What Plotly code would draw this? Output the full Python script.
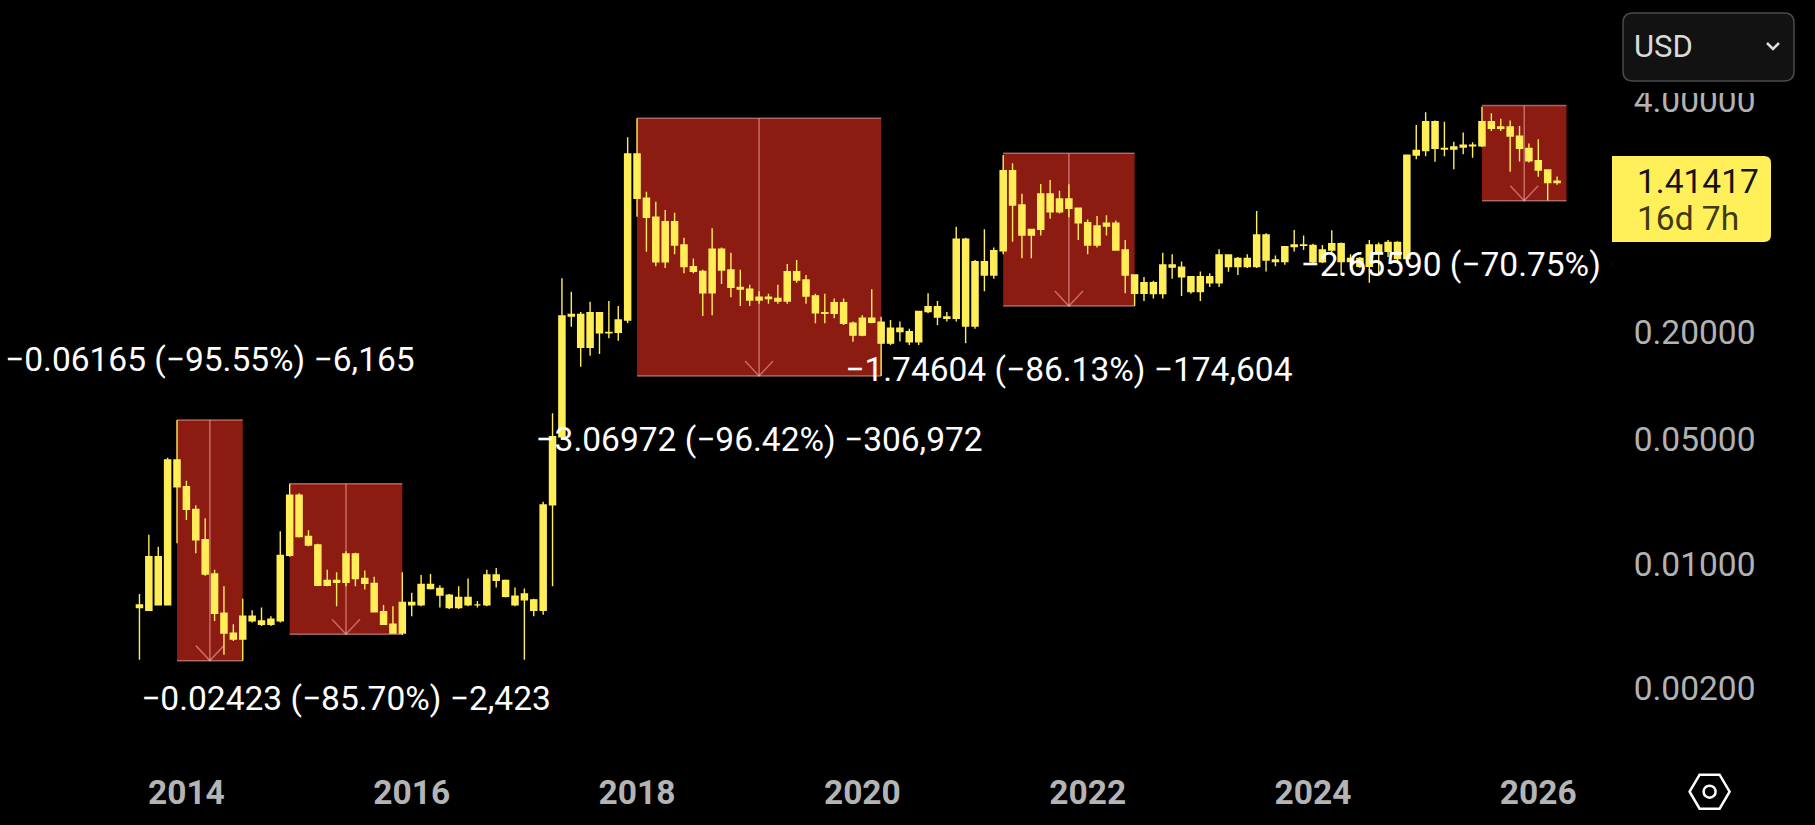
import math
import plotly.graph_objects as go

# ---------------- data (monthly candles, XRP/USD) ----------------
months = [
    "2013-08", "2013-09", "2013-10", "2013-11", "2013-12",
    "2014-01", "2014-02", "2014-03", "2014-04", "2014-05", "2014-06", "2014-07", "2014-08", "2014-09", "2014-10", "2014-11", "2014-12",
    "2015-01", "2015-02", "2015-03", "2015-04", "2015-05", "2015-06", "2015-07", "2015-08", "2015-09", "2015-10", "2015-11", "2015-12",
    "2016-01", "2016-02", "2016-03", "2016-04", "2016-05", "2016-06", "2016-07", "2016-08", "2016-09", "2016-10", "2016-11", "2016-12",
    "2017-01", "2017-02", "2017-03", "2017-04", "2017-05", "2017-06", "2017-07", "2017-08", "2017-09", "2017-10", "2017-11", "2017-12",
    "2018-01", "2018-02", "2018-03", "2018-04", "2018-05", "2018-06", "2018-07", "2018-08", "2018-09", "2018-10", "2018-11", "2018-12",
    "2019-01", "2019-02", "2019-03", "2019-04", "2019-05", "2019-06", "2019-07", "2019-08", "2019-09", "2019-10", "2019-11", "2019-12",
    "2020-01", "2020-02", "2020-03", "2020-04", "2020-05", "2020-06", "2020-07", "2020-08", "2020-09", "2020-10", "2020-11", "2020-12",
    "2021-01", "2021-02", "2021-03", "2021-04", "2021-05", "2021-06", "2021-07", "2021-08", "2021-09", "2021-10", "2021-11", "2021-12",
    "2022-01", "2022-02", "2022-03", "2022-04", "2022-05", "2022-06", "2022-07", "2022-08", "2022-09", "2022-10", "2022-11", "2022-12",
    "2023-01", "2023-02", "2023-03", "2023-04", "2023-05", "2023-06", "2023-07", "2023-08", "2023-09", "2023-10", "2023-11", "2023-12",
    "2024-01", "2024-02", "2024-03", "2024-04", "2024-05", "2024-06", "2024-07", "2024-08", "2024-09", "2024-10", "2024-11", "2024-12",
    "2025-01", "2025-02", "2025-03", "2025-04", "2025-05", "2025-06", "2025-07", "2025-08", "2025-09", "2025-10", "2025-11", "2025-12",
    "2026-01", "2026-02", "2026-03",
]

opens = [
    0.0059, 0.0055, 0.0110, 0.0059, 0.0384,
    0.0272, 0.0203, 0.0137, 0.0088, 0.0053, 0.0041, 0.0038, 0.0051, 0.0048, 0.0046, 0.0048, 0.0112,
    0.0244, 0.0143, 0.0128, 0.0076, 0.0081, 0.0079, 0.0114, 0.0083, 0.0078, 0.0054, 0.0046, 0.0041,
    0.0061, 0.0059, 0.0077, 0.0073, 0.0067, 0.0057, 0.0065, 0.0059, 0.0059, 0.0087, 0.0081, 0.0066,
    0.0063, 0.0063, 0.0055, 0.0215, 0.0519, 0.2473, 0.2520, 0.1650, 0.2580, 0.1992, 0.2000, 0.2348,
    2.008, 1.132, 0.886, 0.499, 0.837, 0.619, 0.468, 0.440, 0.334, 0.586, 0.448, 0.358,
    0.350, 0.304, 0.315, 0.310, 0.300, 0.438, 0.394, 0.320, 0.258, 0.256, 0.294, 0.225,
    0.193, 0.240, 0.228, 0.174, 0.211, 0.202, 0.177, 0.262, 0.279, 0.244, 0.240, 0.667,
    0.217, 0.499, 0.420, 0.575, 1.618, 1.038, 0.705, 0.758, 1.197, 0.952, 1.122, 0.995,
    0.826, 0.619, 0.791, 0.820, 0.580, 0.420, 0.332, 0.380, 0.330, 0.478, 0.465, 0.411,
    0.339, 0.411, 0.380, 0.544, 0.468, 0.521, 0.468, 0.705, 0.510, 0.500, 0.606, 0.620,
    0.616, 0.499, 0.580, 0.630, 0.500, 0.520, 0.470, 0.620, 0.570, 0.640, 0.520, 1.980,
    2.100, 3.050, 2.160, 2.140, 2.200, 2.250, 2.230, 3.050, 2.800, 2.850, 2.530, 2.160,
    1.840, 1.633, 1.386,
]

highs = [
    0.0068, 0.0146, 0.0125, 0.0395, 0.0645,
    0.0294, 0.0214, 0.0181, 0.0093, 0.0075, 0.0046, 0.0064, 0.0055, 0.0057, 0.0051, 0.0153, 0.0283,
    0.0250, 0.0155, 0.0130, 0.0093, 0.0090, 0.0118, 0.0116, 0.0092, 0.0085, 0.0059, 0.0058, 0.0090,
    0.0069, 0.0087, 0.0088, 0.0076, 0.0068, 0.0075, 0.0083, 0.0062, 0.0093, 0.0095, 0.0082, 0.0074,
    0.0073, 0.0064, 0.0224, 0.0703, 0.4026, 0.3385, 0.2600, 0.2974, 0.2600, 0.3000, 0.2813, 2.492,
    3.184, 1.233, 1.084, 0.973, 0.940, 0.680, 0.520, 0.450, 0.769, 0.600, 0.560, 0.450,
    0.370, 0.340, 0.330, 0.370, 0.484, 0.510, 0.420, 0.330, 0.330, 0.310, 0.310, 0.230,
    0.250, 0.349, 0.245, 0.235, 0.230, 0.210, 0.265, 0.332, 0.300, 0.260, 0.784, 0.680,
    0.510, 0.758, 0.600, 1.980, 1.780, 1.200, 0.760, 1.362, 1.434, 1.250, 1.360, 1.000,
    0.860, 0.900, 0.910, 0.850, 0.660, 0.420, 0.410, 0.390, 0.560, 0.550, 0.500, 0.411,
    0.440, 0.430, 0.586, 0.550, 0.530, 0.550, 0.961, 0.720, 0.540, 0.610, 0.752, 0.700,
    0.630, 0.620, 0.750, 0.640, 0.550, 0.530, 0.660, 0.640, 0.660, 0.650, 1.980, 2.920,
    3.440, 3.100, 3.050, 2.353, 2.650, 2.340, 3.700, 3.400, 3.170, 3.100, 2.880, 2.300,
    2.430, 1.650, 1.500,
]

lows = [
    0.0029, 0.0055, 0.0059, 0.0059, 0.0131,
    0.0177, 0.0115, 0.0086, 0.0048, 0.0031, 0.0037, 0.00287, 0.0047, 0.0045, 0.0045, 0.0047, 0.0110,
    0.0141, 0.0126, 0.0076, 0.0075, 0.0058, 0.0075, 0.0075, 0.0072, 0.0054, 0.0046, 0.0041, 0.0040,
    0.0051, 0.0058, 0.0072, 0.0057, 0.0056, 0.0056, 0.0058, 0.0057, 0.0058, 0.0074, 0.0065, 0.0058,
    0.0029, 0.0051, 0.0052, 0.0075, 0.0500, 0.2154, 0.1284, 0.1480, 0.1513, 0.1853, 0.1794, 0.2250,
    0.893, 0.568, 0.470, 0.460, 0.550, 0.430, 0.430, 0.247, 0.250, 0.374, 0.315, 0.281,
    0.281, 0.290, 0.290, 0.290, 0.290, 0.380, 0.290, 0.225, 0.225, 0.240, 0.220, 0.177,
    0.190, 0.225, 0.114, 0.170, 0.178, 0.170, 0.170, 0.256, 0.220, 0.230, 0.230, 0.174,
    0.210, 0.340, 0.400, 0.550, 0.646, 0.521, 0.521, 0.700, 0.870, 0.930, 0.886, 0.660,
    0.550, 0.600, 0.700, 0.580, 0.332, 0.281, 0.300, 0.310, 0.310, 0.400, 0.320, 0.330,
    0.300, 0.360, 0.360, 0.438, 0.420, 0.460, 0.460, 0.440, 0.470, 0.480, 0.570, 0.580,
    0.484, 0.490, 0.550, 0.420, 0.470, 0.460, 0.380, 0.430, 0.530, 0.490, 0.490, 1.875,
    1.950, 1.817, 1.950, 1.647, 2.000, 1.910, 2.200, 2.700, 2.700, 1.597, 1.820, 1.800,
    1.497, 1.100, 1.350,
]

closes = [
    0.0057, 0.0110, 0.0059, 0.0384, 0.0272,
    0.0203, 0.0137, 0.0088, 0.0053, 0.0041, 0.0038, 0.0051, 0.0048, 0.0046, 0.0049, 0.0112, 0.0244,
    0.0143, 0.0128, 0.0076, 0.0081, 0.0079, 0.0114, 0.0083, 0.0078, 0.0054, 0.0046, 0.0041, 0.0061,
    0.0059, 0.0077, 0.0073, 0.0067, 0.0057, 0.0065, 0.0059, 0.0059, 0.0087, 0.0081, 0.0066, 0.0059,
    0.0068, 0.0055, 0.0215, 0.0519, 0.2473, 0.2520, 0.1650, 0.2580, 0.1992, 0.2000, 0.2348, 2.008,
    1.132, 0.886, 0.499, 0.837, 0.619, 0.468, 0.440, 0.334, 0.586, 0.448, 0.358, 0.350,
    0.304, 0.315, 0.310, 0.300, 0.438, 0.394, 0.320, 0.258, 0.256, 0.294, 0.225, 0.193,
    0.240, 0.228, 0.174, 0.211, 0.202, 0.177, 0.262, 0.279, 0.244, 0.240, 0.667, 0.217,
    0.499, 0.420, 0.575, 1.618, 1.038, 0.705, 0.758, 1.197, 0.952, 1.122, 0.995, 0.826,
    0.619, 0.791, 0.820, 0.580, 0.420, 0.332, 0.380, 0.330, 0.478, 0.465, 0.411, 0.339,
    0.411, 0.380, 0.544, 0.468, 0.521, 0.468, 0.705, 0.510, 0.500, 0.606, 0.620, 0.616,
    0.499, 0.580, 0.630, 0.500, 0.520, 0.470, 0.620, 0.570, 0.640, 0.520, 1.980, 2.100,
    3.050, 2.160, 2.140, 2.200, 2.250, 2.230, 3.050, 2.800, 2.850, 2.530, 2.160, 1.840,
    1.633, 1.386, 1.41417,
]

# drawdown ("price range") boxes
box_start = ["2013-12", "2014-12", "2018-01", "2021-04", "2025-07"]
box_end = ["2014-07", "2015-12", "2020-03", "2022-06", "2026-04"]
box_change = [0.06165, 0.02423, 3.06972, 1.74604, 2.65590]
box_pct = [95.55, 85.70, 96.42, 86.13, 70.75]
box_label_side = ["above", "below", "below", "below", "below"]

year_labels = ["2014", "2016", "2018", "2020", "2022", "2024", "2026"]
price_ticks = [0.002, 0.01, 0.05, 0.2, 4.0]
currency = "USD"
time_left = "16d 7h"

# ---------------- layout geometry ----------------
W, H = 1815, 825
ML, MR, MT, MB = 0, 203, 0, 70
PW, PH = W - ML - MR, H - MT - MB
Y_RANGE = [-3.0718, 1.1674]          # log10 range
X_RANGE = [-14.855, 156.85]          # month index range
PX_PER_DECADE = PH / (Y_RANGE[1] - Y_RANGE[0])

FONT = "Roboto"
CANDLE = "#FFEE58"
BOX_FILL = "#8C1B12"
BOX_LINE = "rgba(255,190,185,0.5)"
TXT = 33.5


def month_index(s):
    y, m = map(int, s.split("-"))
    y0, m0 = map(int, months[0].split("-"))
    return (y - y0) * 12 + (m - m0)


def fx(px):
    return (px - ML) / PW


def fy(py):
    return (H - MB - py) / PH


x_idx = [month_index(m) for m in months]

fig = go.Figure()
fig.add_trace(go.Candlestick(
    x=x_idx, open=opens, high=highs, low=lows, close=closes,
    increasing=dict(line=dict(color=CANDLE, width=1.4), fillcolor=CANDLE),
    decreasing=dict(line=dict(color=CANDLE, width=1.4), fillcolor=CANDLE),
    whiskerwidth=0, hoverinfo="skip", showlegend=False,
))

shapes = []
lab_x, lab_y, lab_t = [], [], []
for s, e, chg, pct, side in zip(box_start, box_end, box_change, box_pct, box_label_side):
    hi = chg / (pct / 100.0)
    lo = hi - chg
    x0, x1 = month_index(s), month_index(e)
    cx = (x0 + x1) / 2.0
    shapes.append(dict(type="rect", xref="x", yref="y", x0=x0, x1=x1, y0=lo, y1=hi,
                       fillcolor=BOX_FILL, line=dict(width=0), layer="below"))
    for yy in (lo, hi):
        shapes.append(dict(type="line", xref="x", yref="y", x0=x0, x1=x1, y0=yy, y1=yy,
                           line=dict(color=BOX_LINE, width=1.5), layer="below"))
    shapes.append(dict(type="line", xref="x", yref="y", x0=cx, x1=cx, y0=lo, y1=hi,
                       line=dict(color=BOX_LINE, width=1.5), layer="below"))
    shapes.append(dict(type="path", xref="x", yref="y", xsizemode="pixel", ysizemode="pixel",
                       xanchor=cx, yanchor=lo, path="M -14 15 L 0 0 L 14 15",
                       line=dict(color=BOX_LINE, width=1.5), layer="below"))
    ticks = round(chg * 1e5)
    lab_t.append(f"\u2212{chg:.5f} (\u2212{pct:.2f}%) \u2212{ticks:,}")
    lab_x.append(cx)
    if side == "above":
        lab_y.append(hi * 10 ** (57 / PX_PER_DECADE))
    else:
        lab_y.append(lo / 10 ** (67 / PX_PER_DECADE))

fig.add_trace(go.Scatter(
    x=lab_x, y=lab_y, text=lab_t, mode="text", textposition="middle center",
    textfont=dict(family=FONT, size=TXT, color="#FFFFFF"),
    hoverinfo="skip", showlegend=False, cliponaxis=True,
))

last_price = closes[-1]

# price label on the scale
shapes.append(dict(type="path", xref="paper", yref="y", xsizemode="pixel", ysizemode="pixel",
                   xanchor=1, yanchor=last_price,
                   path="M 0 25 L 152 25 Q 159 25 159 18 L 159 -54 Q 159 -61 152 -61 L 0 -61 Z",
                   fillcolor="#FFF05A", line=dict(width=0), layer="above"))

# cover above the price scale (under currency button)
shapes.append(dict(type="rect", xref="paper", yref="paper", x0=fx(PW), x1=fx(W), y0=fy(93), y1=fy(0),
                   fillcolor="#000000", line=dict(width=0), layer="above"))


def rrect(x0, y0, x1, y1, r):
    return (f"M {fx(x0 + r)} {fy(y0)} L {fx(x1 - r)} {fy(y0)} Q {fx(x1)} {fy(y0)} {fx(x1)} {fy(y0 + r)} "
            f"L {fx(x1)} {fy(y1 - r)} Q {fx(x1)} {fy(y1)} {fx(x1 - r)} {fy(y1)} "
            f"L {fx(x0 + r)} {fy(y1)} Q {fx(x0)} {fy(y1)} {fx(x0)} {fy(y1 - r)} "
            f"L {fx(x0)} {fy(y0 + r)} Q {fx(x0)} {fy(y0)} {fx(x0 + r)} {fy(y0)} Z")


shapes.append(dict(type="path", xref="paper", yref="paper", path=rrect(1623, 13, 1794, 81, 10),
                   fillcolor="#121212", line=dict(color="#4A4A4A", width=1.5), layer="above"))
shapes.append(dict(type="path", xref="paper", yref="paper",
                   path=f"M {fx(1767)} {fy(43)} L {fx(1773)} {fy(49)} L {fx(1779)} {fy(43)}",
                   line=dict(color="#DDDDDD", width=2.5), layer="above"))

# settings hexagon icon
hx, hy = 1709.6, 791.7
hexpts = [(-20, 0), (-10, -17), (10, -17), (20, 0), (10, 17), (-10, 17)]
hpath = "M " + " L ".join(f"{fx(hx + a)} {fy(hy + b)}" for a, b in hexpts) + " Z"
shapes.append(dict(type="path", xref="paper", yref="paper", path=hpath,
                   line=dict(color="#FFFFFF", width=2.5), layer="above"))
shapes.append(dict(type="circle", xref="paper", yref="paper",
                   x0=fx(hx - 6), x1=fx(hx + 6), y0=fy(hy + 6), y1=fy(hy - 6),
                   line=dict(color="#FFFFFF", width=2.5), layer="above"))

annotations = [
    dict(text=currency, xref="paper", yref="paper", x=fx(1632), y=fy(47), xanchor="left", yanchor="middle",
         showarrow=False, font=dict(family=FONT, size=31, color="#DADADA")),
    dict(text=f"{last_price:.5f}", xref="paper", yref="y", x=fx(1635), y=math.log10(last_price),
         xanchor="left", yanchor="middle", showarrow=False,
         font=dict(family=FONT, size=TXT, color="#141414")),
    dict(text=time_left, xref="paper", yref="y", x=fx(1635), y=math.log10(last_price), yshift=-37,
         xanchor="left", yanchor="middle", showarrow=False,
         font=dict(family=FONT, size=TXT, color="#3E3A12")),
]

fig.update_layout(
    width=W, height=H,
    margin=dict(l=ML, r=MR, t=MT, b=MB, pad=0),
    paper_bgcolor="#000000", plot_bgcolor="#000000",
    showlegend=False, boxgap=0.35, boxgroupgap=0,
    shapes=shapes, annotations=annotations,
    xaxis=dict(
        range=X_RANGE, rangeslider=dict(visible=False), showgrid=False, zeroline=False, showline=False,
        tickvals=[month_index(f"{y}-01") for y in year_labels], ticktext=year_labels,
        tickfont=dict(family=FONT, size=TXT, color="#B4B4B4", weight="bold"),
        ticks="outside", ticklen=8, tickcolor="rgba(0,0,0,0)",
    ),
    yaxis=dict(
        type="log", range=Y_RANGE, side="right", showgrid=False, zeroline=False, showline=False,
        tickvals=price_ticks, ticktext=[f"{v:.5f}" for v in price_ticks],
        tickfont=dict(family=FONT, size=TXT, color="#B2B2B2"),
        ticks="outside", ticklen=14, tickcolor="rgba(0,0,0,0)",
    ),
)

fig.write_html(
    "out.html",
    config={"displayModeBar": False},
    post_script="document.body.style.margin='0';document.body.style.padding='0';"
                "document.body.style.background='#000';document.body.style.overflow='hidden';",
)
